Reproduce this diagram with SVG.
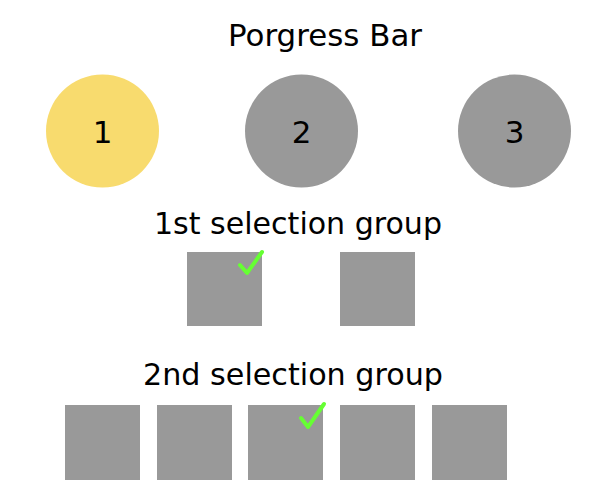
<svg xmlns="http://www.w3.org/2000/svg" width="591" height="500" viewBox="0 0 591 500">
<style>
text{font-family:"DejaVu Sans",Verdana,sans-serif;fill:#000;text-anchor:middle}
.t{font-size:30px}
.n{font-size:31px}
.c{fill:#999999}
.sq{fill:#999999}
.chk{fill:none;stroke:#66ff33;stroke-width:4;stroke-linecap:round;stroke-linejoin:round}
</style>
<rect width="591" height="500" fill="#ffffff"/>
<text id="title" class="t" x="325" y="46" textLength="194" lengthAdjust="spacingAndGlyphs">Porgress Bar</text>
<g id="step1"><circle cx="102.5" cy="131" r="56.5" fill="#f8db6e"/><text class="n" x="102.5" y="143">1</text></g>
<g id="step2"><circle class="c" cx="301.5" cy="131" r="56.5"/><text class="n" x="301.5" y="143">2</text></g>
<g id="step3"><circle class="c" cx="514.5" cy="131" r="56.5"/><text class="n" x="514.5" y="143">3</text></g>
<text id="g1label" class="t" x="298" y="234" textLength="288" lengthAdjust="spacingAndGlyphs">1st selection group</text>
<g id="g1a"><rect class="sq" x="187" y="252" width="75" height="74"/><polyline class="chk" points="240,265 247,273 262,252"/></g>
<g id="g1b"><rect class="sq" x="340" y="252" width="75" height="74"/></g>
<text id="g2label" class="t" x="293" y="385" textLength="300" lengthAdjust="spacingAndGlyphs">2nd selection group</text>
<g id="g2a"><rect class="sq" x="65" y="405" width="75" height="75"/></g>
<g id="g2b"><rect class="sq" x="157" y="405" width="75" height="75"/></g>
<g id="g2c"><rect class="sq" x="248" y="405" width="75" height="75"/><polyline class="chk" points="301,418 308,427 324,404"/></g>
<g id="g2d"><rect class="sq" x="340" y="405" width="75" height="75"/></g>
<g id="g2e"><rect class="sq" x="432" y="405" width="75" height="75"/></g>
<g id="connectors"></g>
</svg>
